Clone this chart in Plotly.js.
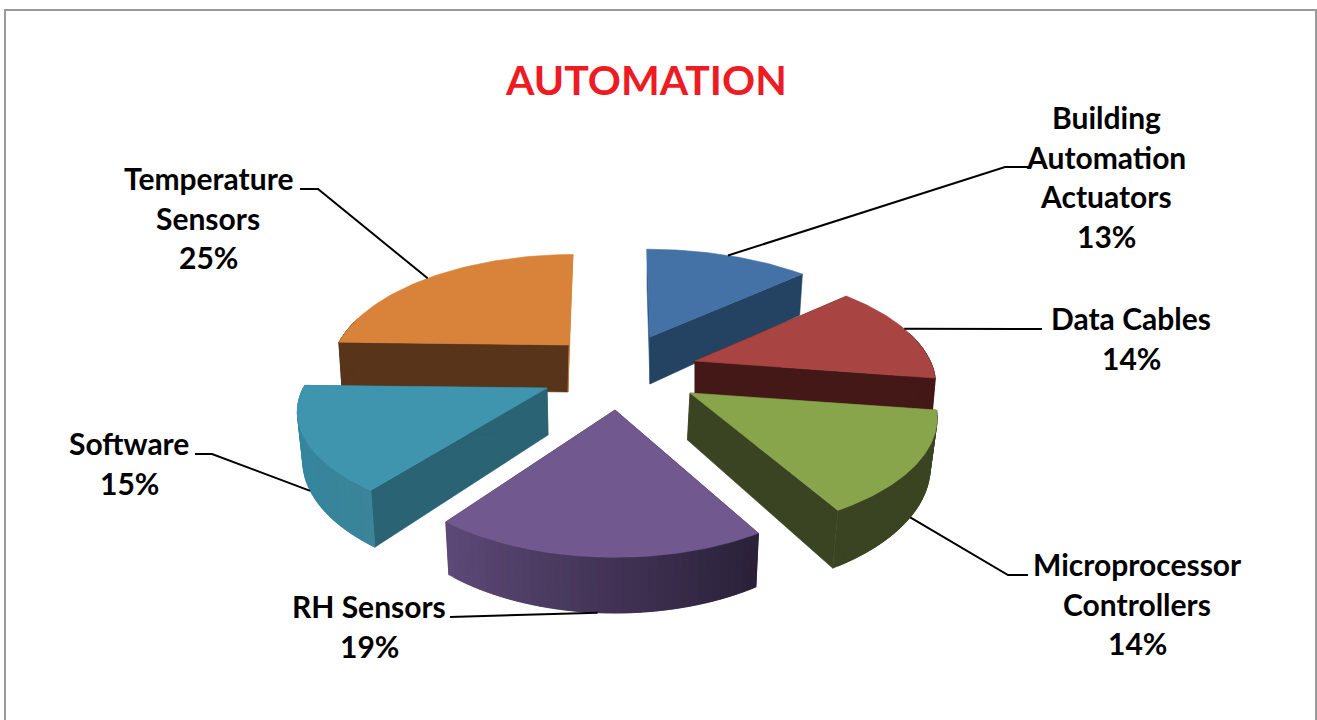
<!DOCTYPE html>
<html><head><meta charset="utf-8">
<script src="https://cdn.plot.ly/plotly-3.0.1.min.js"></script>
<style>html,body{margin:0;padding:0;background:#fff;overflow:hidden}#c{width:1317px;height:720px}</style>
</head><body><div id="c"></div>
<script>
// Data (estimated shares; labels show them rounded)
const categories = ["Building Automation Actuators","Data Cables","Microprocessor Controllers","RH Sensors","Software","Temperature Sensors"];
const labelLines = [["Building","Automation","Actuators"],["Data Cables"],["Microprocessor","Controllers"],["RH Sensors"],["Software"],["Temperature","Sensors"]];
const values = [13.2,14.2,14.3,18.5,15.2,24.6];

// Styles
const topColors  = ["#4472A6","#A84542","#89A54C","#71588F","#4095AE","#D98239"];
const startWall  = ["#2E5A85","#431816","#3A4422","#3A2C4D","#2A6373","#57341A"];
const endWall    = ["#244261","#431816","#3A4422","#3A2C4D","#2A6373","#C67A36"];
const sideFrom   = ["#244261","#431816","#3A4422","#5E4A78","#2F88A1","#57341A"];
const sideTo     = ["#244261","#431816","#3A4422","#292038","#3B8499","#57341A"];

// Layout of the exploded pie, in page pixels
const apexX = [650,695,690,615,547,569];
const apexY = [337,361,393,410,388,345];
const widthScale = [0.98,0.96,0.985,0.955,0.995,0.945];
const heightScale = [0.97,1,1,1.05,0.96,1];
const depthScale = [1,1,1,0.93,1,1];
const lean = [0.034,0,0,0,0,-0.043];
const dropX = [0,0,-2.5,0,1,-1];
const CONVERGE = -0.018;
const leaderFrom = [0,0,1,1,1,0]; // 1: leader meets the lower edge of the wall
const leaderShift = [0,-1.3,0,0,0,-1.5];
const leaderMid = [[1005,167],[1042,329],[1008,575],[470,617],[212,454],[318,189]];
const leaderEnd = [[1030,167],[1042,329],[1028,575],[450,617],[195,454],[300,189]];
const labelX = [1106,1131,1137,369,129,208];
const labelY = [117,318,564,606,443,178];
const lineGap = 39.5;
const RX = 245, RY = 110, K = 0.216, DEPTH = 47;

const rad = d => d*Math.PI/180;
const total = values.reduce((a,b)=>a+b,0);
let acc = 0;
const slices = values.map((v,i)=>{const a0=acc; acc+=v/total*360; return {i,a0,a1:acc};});

function topPt(i,deg){
  const u=Math.sin(rad(deg)), w=Math.cos(rad(deg)), s=1/(1+K*w);
  const dy=-RY*heightScale[i]*w*s;
  return [apexX[i]+RX*widthScale[i]*u*s+lean[i]*dy, apexY[i]+dy, s];
}
function lowPt(i,deg){
  const p=topPt(i,deg);
  return [p[0]+dropX[i]+CONVERGE*(p[0]-apexX[i]), p[1]+DEPTH*depthScale[i]*p[2]];
}
function poly(pts,color,w){
  const xs=pts.map(p=>p[0]), ys=pts.map(p=>p[1]);
  xs.push(xs[0]); ys.push(ys[0]);
  return {type:"scatter",mode:"lines",x:xs,y:ys,fill:"toself",fillcolor:color,
    line:{color:color,width:w},hoverinfo:"skip",showlegend:false};
}
function hex(c){return [1,3,5].map(k=>parseInt(c.substr(k,2),16));}
function mix(a,b,t){const A=hex(a),B=hex(b);return "rgb("+A.map((v,k)=>Math.round(v+(B[k]-v)*t)).join(",")+")";}

const traces=[];
slices.slice().sort((a,b)=>apexY[a.i]-apexY[b.i]).forEach(sl=>{
  const i=sl.i, apex=[apexX[i],apexY[i]], apexLow=[apexX[i]+dropX[i],apexY[i]+DEPTH*depthScale[i]];
  traces.push(poly([topPt(i,sl.a0),apex,apexLow,lowPt(i,sl.a0)],startWall[i],0.6));
  traces.push(poly([topPt(i,sl.a1),apex,apexLow,lowPt(i,sl.a1)],endWall[i],0.6));
  const N=40, span=sl.a1-sl.a0;
  for(let k=N-1;k>=0;k--){
    // painted from the far end, each strip reaching under its neighbour so no seam shows
    const d0=sl.a0+span*Math.max(k-1,0)/N, d1=sl.a0+span*(k+1)/N;
    const mid=sl.a0+span*(k+0.5)/N;
    if(mid<75||mid>285) continue;
    const pts=[];
    for(let a=0;a<=2;a++) pts.push(topPt(i,d0+(d1-d0)*a/2));
    for(let a=2;a>=0;a--) pts.push(lowPt(i,d0+(d1-d0)*a/2));
    traces.push(poly(pts,mix(sideFrom[i],sideTo[i],1-(k+0.5)/N),0.6));
  }
  const arc=[apex];
  for(let k=0;k<=60;k++) arc.push(topPt(i,sl.a0+(sl.a1-sl.a0)*k/60));
  traces.push(poly(arc,topColors[i],0.6));
});

// Leader lines
slices.forEach(sl=>{
  const i=sl.i, m=(sl.a0+sl.a1)/2+leaderShift[i], p=leaderFrom[i]?lowPt(i,m):topPt(i,m);
  traces.push({type:"scatter",mode:"lines",
    x:[p[0],leaderMid[i][0],leaderEnd[i][0]],
    y:[p[1],leaderMid[i][1],leaderEnd[i][1]],
    line:{color:"#000",width:2},hoverinfo:"skip",showlegend:false});
});

// Labels
const annotations=[];
slices.forEach(sl=>{
  const i=sl.i, lines=labelLines[i].concat([Math.round(values[i])+"%"]);
  lines.forEach((t,k)=>annotations.push({xref:"x",yref:"y",x:labelX[i],y:labelY[i]+k*lineGap,text:t,showarrow:false,
    xanchor:"center",yanchor:"middle",font:{family:"Lato, Carlito, sans-serif",size:30,color:"#000",weight:700}}));
});
annotations.push({xref:"x",yref:"y",x:646,y:79,text:"AUTOMATION",showarrow:false,xanchor:"center",yanchor:"middle",
  font:{family:"Lato, Carlito, sans-serif",size:41,color:"#ED1C24",weight:700}});

const layout={width:1317,height:720,margin:{l:0,r:0,t:0,b:0},paper_bgcolor:"#fff",plot_bgcolor:"#fff",showlegend:false,
  xaxis:{range:[0,1317],visible:false,fixedrange:true},
  yaxis:{range:[720,0],visible:false,fixedrange:true},
  annotations,
  shapes:[{type:"rect",xref:"x",yref:"y",x0:5,y0:10,x1:1316,y1:740,line:{color:"#999",width:2},fillcolor:"rgba(0,0,0,0)",layer:"below"}]};
Plotly.newPlot("c",traces,layout,{displayModeBar:false,staticPlot:true});
</script></body></html>
